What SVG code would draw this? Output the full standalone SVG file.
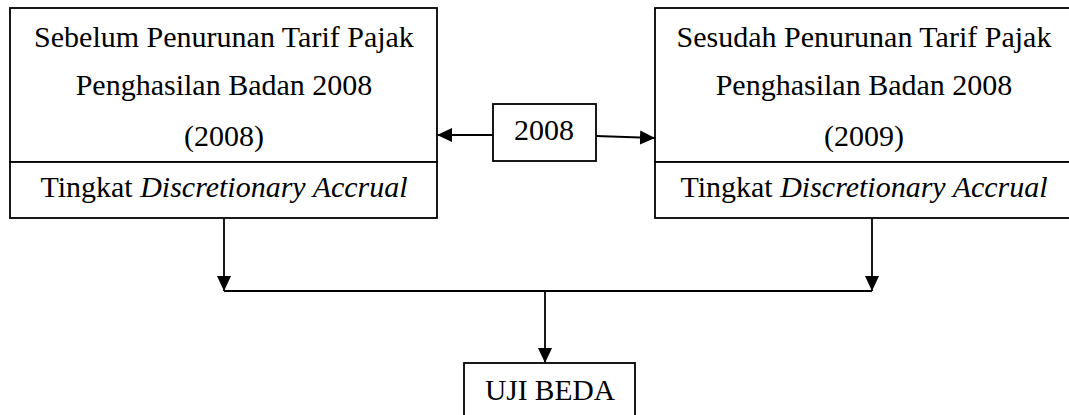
<svg xmlns="http://www.w3.org/2000/svg" width="1069" height="415" viewBox="0 0 1069 415">
<style>
.box{fill:#fff;stroke:#000;stroke-width:1.8}
.t{font-family:"Liberation Serif","Times New Roman",serif;font-size:30px;fill:#000;text-anchor:middle}
.c{fill:none;stroke:#000;stroke-width:1.8}
</style>
<defs>
<marker id="ah" viewBox="0 0 15 14" refX="15" refY="7" markerWidth="15" markerHeight="14" markerUnits="userSpaceOnUse" orient="auto">
<path d="M0,0 L15,7 L0,14 Z" fill="#000"/>
</marker>
</defs>
<rect width="1069" height="415" fill="#fff"/>
<g id="connectors">
<line class="c" x1="493" y1="135" x2="437" y2="135" marker-end="url(#ah)"/>
<line class="c" x1="596" y1="136" x2="655" y2="138" marker-end="url(#ah)"/>
<line class="c" x1="224" y1="218" x2="224" y2="291" marker-end="url(#ah)"/>
<line class="c" x1="872" y1="218" x2="872" y2="291" marker-end="url(#ah)"/>
<line class="c" x1="224" y1="291" x2="872" y2="291"/>
<line class="c" x1="545" y1="291" x2="545" y2="363" marker-end="url(#ah)"/>
</g>
<g id="before">
<rect class="box" x="10" y="8" width="427" height="154"/>
<rect class="box" x="10" y="162" width="427" height="56"/>
<text class="t" x="224" y="47">Sebelum Penurunan Tarif Pajak</text>
<text class="t" x="224" y="95">Penghasilan Badan 2008</text>
<text class="t" x="224" y="146">(2008)</text>
<text class="t" x="224" y="197">Tingkat <tspan font-style="italic">Discretionary Accrual</tspan></text>
</g>
<g id="year">
<rect class="box" x="493" y="104" width="103" height="57"/>
<text class="t" x="544" y="140">2008</text>
</g>
<g id="after">
<rect class="box" x="655" y="8" width="418" height="154"/>
<rect class="box" x="655" y="162" width="418" height="56"/>
<text class="t" x="864" y="47">Sesudah Penurunan Tarif Pajak</text>
<text class="t" x="864" y="95">Penghasilan Badan 2008</text>
<text class="t" x="864" y="146">(2009)</text>
<text class="t" x="864" y="197">Tingkat <tspan font-style="italic">Discretionary Accrual</tspan></text>
</g>
<g id="ujibeda">
<rect class="box" x="464" y="363" width="171" height="60"/>
<text class="t" x="550" y="400" textLength="130" lengthAdjust="spacingAndGlyphs">UJI BEDA</text>
</g>
</svg>
